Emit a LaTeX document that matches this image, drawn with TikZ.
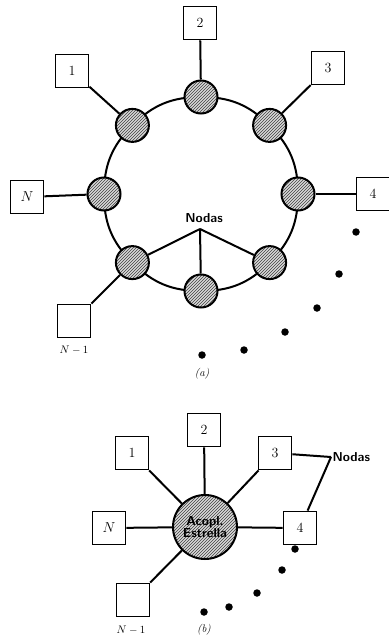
\documentclass[tikz,border=0pt]{standalone}
\usetikzlibrary{patterns,backgrounds}
\begin{document}
\begin{tikzpicture}[x=1pt,y=-1pt,
  conn/.style={draw,line width=2pt},
  box/.style={draw,line width=1.8pt,minimum width=33pt,minimum height=33pt,inner sep=0pt,fill=white,font=\fontsize{14}{16}\selectfont},
  hnode/.style={circle,draw,line width=2pt,minimum size=33pt,inner sep=0pt,preaction={fill=gray!30},pattern=north east lines,pattern color=black!75},
  starc/.style={circle,draw,line width=2pt,minimum size=64pt,inner sep=0pt,preaction={fill=gray!30},pattern=north east lines,pattern color=black!75,align=center,font=\fontsize{13}{13}\selectfont\sffamily\bfseries},
  dot/.style={circle,fill=black,minimum size=7.5pt,inner sep=0pt},
  nlab/.style={font=\fontsize{13}{15}\selectfont\sffamily\bfseries},
  small/.style={font=\fontsize{11}{13}\selectfont}]
\useasboundingbox (0,0) rectangle (388,639);
% ---------- (a) ring ----------
\node[hnode] (r0) at (298,194) {};
\node[hnode] (r1) at (269.6,125.4) {};
\node[hnode] (r2) at (201,97) {};
\node[hnode] (r3) at (132.4,125.4) {};
\node[hnode] (r4) at (104,194) {};
\node[hnode] (r5) at (132.4,262.6) {};
\node[hnode] (r6) at (201,291) {};
\node[hnode] (r7) at (269.6,262.6) {};
\begin{pgfonlayer}{background}
\path[conn] (r0.center) to[bend right=22.5] (r1.center);
\path[conn] (r1.center) to[bend right=22.5] (r2.center);
\path[conn] (r2.center) to[bend right=22.5] (r3.center);
\path[conn] (r3.center) to[bend right=22.5] (r4.center);
\path[conn] (r4.center) to[bend right=22.5] (r5.center);
\path[conn] (r5.center) to[bend right=22.5] (r6.center);
\path[conn] (r6.center) to[bend right=22.5] (r7.center);
\path[conn] (r7.center) to[bend right=22.5] (r0.center);
\end{pgfonlayer}
\node[box] (b2) at (200,23) {2};
\node[box] (b1) at (72,71) {1};
\node[box] (b3) at (328,68) {3};
\node[box] (bN) at (27,197) {$N$};
\node[box] (b4) at (373,194) {4};
\node[box] (bN1) at (74,321) {};
\path[conn] (r2) -- (b2);
\path[conn] (r3) -- (b1);
\path[conn] (r1) -- (b3);
\path[conn] (r4) -- (bN);
\path[conn] (r0) -- (b4);
\path[conn] (r5) -- (bN1);
\node[small] (lN1a) at (74,350) {$N-1$};
\node[nlab] (na) at (204,218) {Nodas};
\coordinate (ca) at (200,229);
\path[conn] (ca) -- (r5);
\path[conn] (ca) -- (r6);
\path[conn] (ca) -- (r7);
\node[dot] (da1) at (356,232) {};
\node[dot] (da2) at (339,274) {};
\node[dot] (da3) at (317,308) {};
\node[dot] (da4) at (285,332) {};
\node[dot] (da5) at (244,350) {};
\node[dot] (da6) at (202,355) {};
\node[small] (la) at (202,374) {\itshape (a)};
% ---------- (b) star ----------
\node[dot] (db1) at (295,549) {};
\node[dot] (db2) at (282,570) {};
\node[dot] (db3) at (257,593) {};
\node[dot] (db4) at (229,607) {};
\node[dot] (db5) at (204,612) {};
\node[starc] (s) at (205,527) {Acopl.\\[-1pt]Estrella};
\node[box] (c1) at (132,453) {1};
\node[box] (c2) at (204,430) {2};
\node[box] (c3) at (275,453) {3};
\node[box] (cN) at (109,528) {$N$};
\node[box] (c4) at (300,528) {4};
\node[box] (cN1) at (133,600) {};
\path[conn] (c1) -- (s);
\path[conn] (c2) -- (s);
\path[conn] (c3) -- (s);
\path[conn] (cN) -- (s);
\path[conn] (s) -- (c4);
\path[conn] (s) -- (cN1);
\node[nlab,anchor=west] (nb) at (329,457) {Nodas};
\coordinate (cb) at (331,457);
\path[conn] (cb) -- (c3);
\path[conn] (cb) -- (c4);
\node[small] (lN1b) at (131,630) {$N-1$};
\node[small] (lb) at (204,630) {\itshape (b)};
\end{tikzpicture}
\end{document}
